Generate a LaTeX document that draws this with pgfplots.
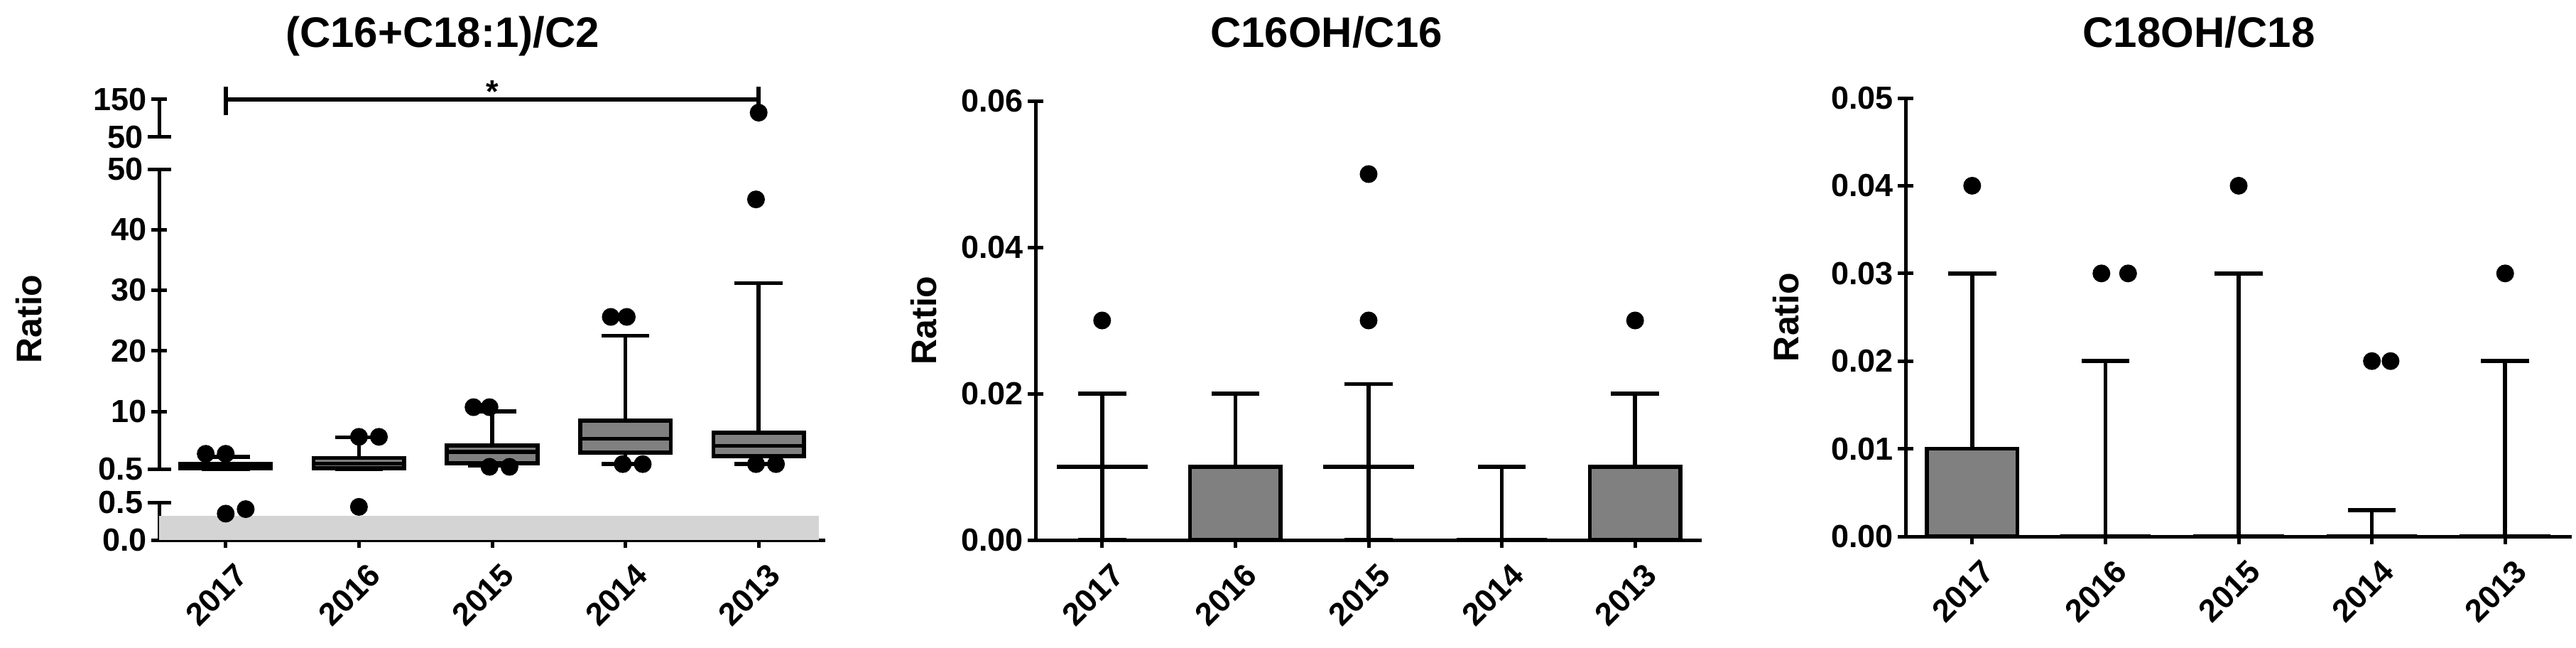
\documentclass[border=0pt]{standalone}
\usepackage{fontspec}
\setmainfont{Liberation Sans}
\usepackage{pgfplots}
\pgfplotsset{compat=1.18}
\usepgfplotslibrary{statistics}
\definecolor{boxgray}{RGB}{128,128,128}
\definecolor{bandgray}{RGB}{212,212,212}
\pgfplotsset{
  boxplot/draw direction=y,
  base/.style={
    scale only axis, width=187.6pt, xmin=-0.5, xmax=4.5, clip=false,
    scaled y ticks=false,
    tick align=outside, major tick length=4.4pt,
    tick style={black, line width=1pt},
    ticklabel style={font=\bfseries\fontsize{9}{10}\selectfont, inner sep=1pt},
    xtick={0,1,2,3,4}, xticklabels={2017,2016,2015,2014,2013},
    xticklabel style={rotate=45, anchor=east, yshift=-7.5pt},
    ylabel style={font=\bfseries\fontsize{10}{12}\selectfont, anchor=center},
    anchor=south west,
  },
  noarrow/.style={axis line style={-, line width=1pt, black},
    every outer x axis line/.append style={-}, every outer y axis line/.append style={-}},
  brk/.style={extra tick style={tick align=center, major tick length=6.6pt}},
  bp/.style={black, line width=1.1pt, boxplot/every box/.style={draw=black, fill=boxgray}},
  out/.style={only marks, mark=*, mark size=2.3pt, black},
}
\begin{document}
\begin{tikzpicture}
\path[use as bounding box] (0,0) rectangle (725.4pt,182.2pt);
% titles
\node[font=\bfseries\fontsize{12}{14}\selectfont, anchor=base] at (124.6pt,168.8pt) {(C16+C18:1)/C2};
\node[font=\bfseries\fontsize{12}{14}\selectfont, anchor=base] at (373.5pt,168.8pt) {C16OH/C16};
\node[font=\bfseries\fontsize{12}{14}\selectfont, anchor=base] at (619.2pt,168.8pt) {C18OH/C18};

% ---------- Panel 1, bottom segment ----------
\begin{axis}[base, at={(44.8pt,30.2pt)}, height=10.6pt, ymin=0, ymax=0.5,
  axis x line=bottom, axis y line=left, noarrow,
  ytick={0}, yticklabels={0.0}, brk, extra y ticks={0.5}, extra y tick labels={0.5}]
\addplot[fill=bandgray, draw=none] coordinates {(-0.5,0) (-0.5,0.32) (4.45,0.32) (4.45,0)} -- cycle;
\addplot[out] coordinates {(0,0.35) (0.15,0.41) (1,0.44)};
\end{axis}

% ---------- Panel 1, middle segment ----------
\begin{axis}[base, at={(44.8pt,50.2pt)}, height=84.4pt, ymin=0.5, ymax=50,
  axis x line=none, axis y line=left, noarrow, xtick=\empty,
  ytick={10,20,30,40}, yticklabels={10,20,30,40},
  brk, extra y ticks={0.5,50}, extra y tick labels={0.5,50},
  ylabel={Ratio}, ylabel style={at={(axis description cs:-0.196,0.5)}}]
\addplot[bp, boxplot prepared={draw position=0, lower whisker=0.5, lower quartile=0.6, median=0.9, upper quartile=1.3, upper whisker=2.5, box extend=0.68, whisker extend=0.36}] coordinates {};
\addplot[bp, boxplot prepared={draw position=1, lower whisker=0.5, lower quartile=0.6, median=1.4, upper quartile=2.3, upper whisker=5.7, box extend=0.68, whisker extend=0.36}] coordinates {};
\addplot[bp, boxplot prepared={draw position=2, lower whisker=1.1, lower quartile=1.45, median=3.3, upper quartile=4.4, upper whisker=10.0, box extend=0.68, whisker extend=0.36}] coordinates {};
\addplot[bp, boxplot prepared={draw position=3, lower whisker=1.3, lower quartile=3.2, median=5.5, upper quartile=8.5, upper whisker=22.5, box extend=0.68, whisker extend=0.36}] coordinates {};
\addplot[bp, boxplot prepared={draw position=4, lower whisker=1.3, lower quartile=2.6, median=4.3, upper quartile=6.5, upper whisker=31.2, box extend=0.68, whisker extend=0.36}] coordinates {};
\addplot[out] coordinates {(-0.15,3.0) (0,3.0) (1,5.8) (1.15,5.8) (1.86,10.7) (1.98,10.7) (1.98,0.85) (2.13,0.85) (2.89,25.6) (3.01,25.6) (2.98,1.3) (3.13,1.3) (3.98,45) (3.98,1.3) (4.13,1.3)};
\end{axis}

% ---------- Panel 1, top segment ----------
\begin{axis}[base, at={(44.8pt,143.6pt)}, height=10.6pt, ymin=50, ymax=150,
  axis x line=none, axis y line=left, noarrow, xtick=\empty,
  ytick={150}, yticklabels={150}, brk, extra y ticks={50}, extra y tick labels={50}]
\addplot[black, line width=1.1pt] coordinates {(0,150) (4,150)};
\addplot[black, line width=1.1pt] coordinates {(0,108) (0,184)};
\addplot[black, line width=1.1pt] coordinates {(4,108) (4,184)};
\addplot[out] coordinates {(4,115)};
\node[font=\bfseries\fontsize{9}{10}\selectfont, anchor=base, yshift=-1pt] at (axis cs:2,150) {*};
\end{axis}

% ---------- Panel 2 ----------
\begin{axis}[base, at={(291.6pt,30.2pt)}, height=123.6pt, ymin=0, ymax=0.06,
  axis x line=bottom, axis y line=left, noarrow,
  ytick={0,0.02,0.04,0.06}, yticklabels={0.00,0.02,0.04,0.06},
  ylabel={Ratio}, ylabel style={at={(axis description cs:-0.168,0.5)}}]
\addplot[bp, boxplot prepared={draw position=0, lower whisker=0, lower quartile=0.01, median=0.01, upper quartile=0.01, upper whisker=0.02, box extend=0.68, whisker extend=0.36}] coordinates {};
\addplot[bp, boxplot prepared={draw position=1, lower whisker=0, lower quartile=0, median=0.01, upper quartile=0.01, upper whisker=0.02, box extend=0.68, whisker extend=0.36}] coordinates {};
\addplot[bp, boxplot prepared={draw position=2, lower whisker=0, lower quartile=0.01, median=0.01, upper quartile=0.01, upper whisker=0.0213, box extend=0.68, whisker extend=0.36}] coordinates {};
\addplot[bp, boxplot prepared={draw position=3, lower whisker=0, lower quartile=0, median=0, upper quartile=0, upper whisker=0.01, box extend=0.68, whisker extend=0.36}] coordinates {};
\addplot[bp, boxplot prepared={draw position=4, lower whisker=0, lower quartile=0, median=0.01, upper quartile=0.01, upper whisker=0.02, box extend=0.68, whisker extend=0.36}] coordinates {};
\addplot[out] coordinates {(0,0.03) (2,0.03) (2,0.05) (4,0.03)};
\end{axis}

% ---------- Panel 3 ----------
\begin{axis}[base, at={(536.6pt,31.2pt)}, height=123.4pt, ymin=0, ymax=0.05,
  axis x line=bottom, axis y line=left, noarrow,
  ytick={0,0.01,0.02,0.03,0.04,0.05}, yticklabels={0.00,0.01,0.02,0.03,0.04,0.05},
  ylabel={Ratio}, ylabel style={at={(axis description cs:-0.18,0.5)}}]
\addplot[bp, boxplot prepared={draw position=0, lower whisker=0, lower quartile=0, median=0, upper quartile=0.01, upper whisker=0.03, box extend=0.68, whisker extend=0.36}] coordinates {};
\addplot[bp, boxplot prepared={draw position=1, lower whisker=0, lower quartile=0, median=0, upper quartile=0, upper whisker=0.02, box extend=0.68, whisker extend=0.36}] coordinates {};
\addplot[bp, boxplot prepared={draw position=2, lower whisker=0, lower quartile=0, median=0, upper quartile=0, upper whisker=0.03, box extend=0.68, whisker extend=0.36}] coordinates {};
\addplot[bp, boxplot prepared={draw position=3, lower whisker=0, lower quartile=0, median=0, upper quartile=0, upper whisker=0.003, box extend=0.68, whisker extend=0.36}] coordinates {};
\addplot[bp, boxplot prepared={draw position=4, lower whisker=0, lower quartile=0, median=0, upper quartile=0, upper whisker=0.02, box extend=0.68, whisker extend=0.36}] coordinates {};
\addplot[out] coordinates {(0,0.04) (0.97,0.03) (1.17,0.03) (2,0.04) (3,0.02) (3.14,0.02) (4,0.03)};
\end{axis}
\end{tikzpicture}
\end{document}
